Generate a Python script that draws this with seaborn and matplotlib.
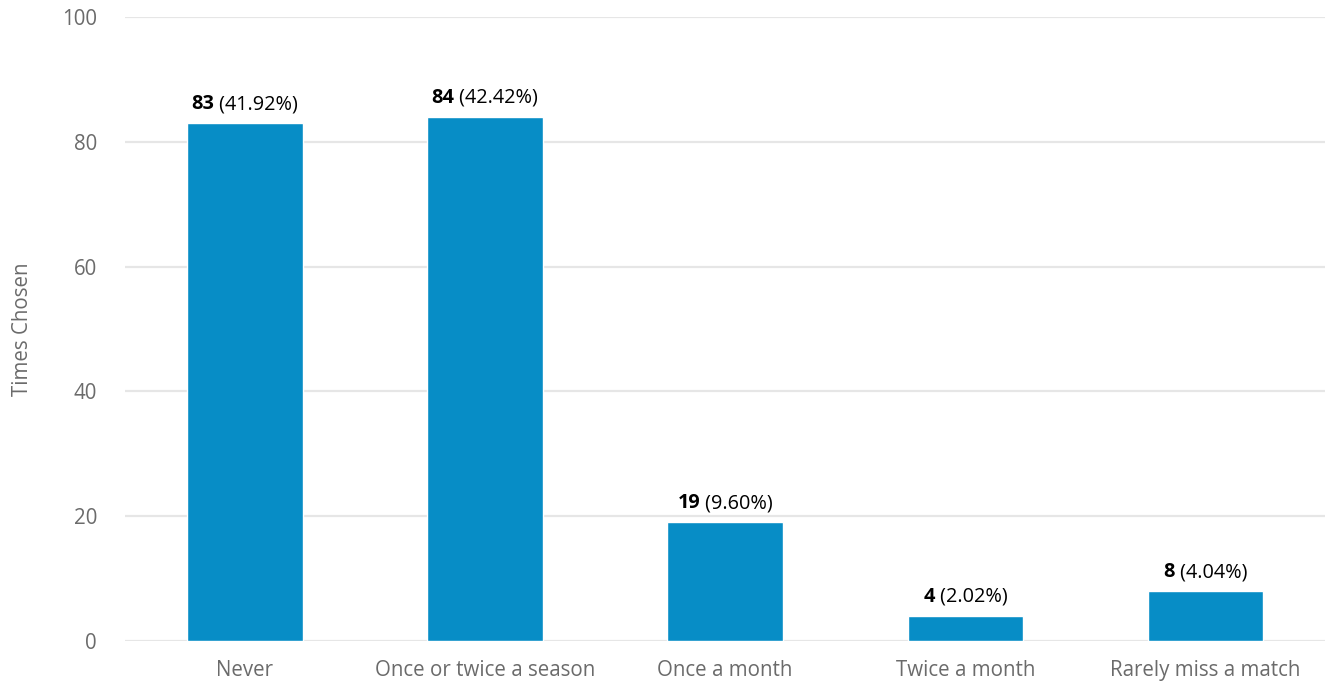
import matplotlib
matplotlib.use("Agg")
import matplotlib.pyplot as plt
import matplotlib.transforms as mtransforms
import seaborn as sns
import pandas as pd

categorias = ["Never", "Once or twice a season", "Once a month", "Twice a month", "Rarely miss a match"]
veces = [83, 84, 19, 4, 8]
porcentajes = ["41.92%", "42.42%", "9.60%", "2.02%", "4.04%"]

df = pd.DataFrame({"categoria": categorias, "veces": veces})

sns.set_style("white")
plt.rcParams['font.family'] = ['Open Sans', 'DejaVu Sans']

fig = plt.figure(figsize=(13.28, 6.84), dpi=100)
ax = fig.add_axes([0.094, 0.063, 0.904, 0.912])

sns.barplot(data=df, x="categoria", y="veces", color="#078dc6", width=0.48,
            saturation=1, ax=ax, zorder=3)

ax.set_ylim(0, 100)
ax.set_yticks([0, 20, 40, 60, 80, 100])
ax.yaxis.grid(True, color="#e6e6e6", linewidth=1.6, zorder=0)
ax.set_axisbelow(True)
for s in ax.spines.values():
    s.set_visible(False)
ax.tick_params(axis="both", length=0, labelsize=14.8, labelcolor="#6b6b6b")
ax.tick_params(axis="y", pad=20)
ax.tick_params(axis="x", pad=14)
ax.set_xlabel("")
ax.set_ylabel("Times Chosen", fontsize=14.8, color="#6b6b6b", labelpad=21)

# etiquetas: numero en negrita + porcentaje
fig.canvas.draw()
renderer = fig.canvas.get_renderer()
for i, (v, p) in enumerate(zip(veces, porcentajes)):
    t1 = ax.text(i, v, str(v), fontsize=14.3, fontweight="bold", color="black", ha="left", va="bottom")
    t2 = ax.text(i, v, " (" + p + ")", fontsize=14.3, color="black", ha="left", va="bottom")
    w1 = t1.get_window_extent(renderer).width
    w2 = t2.get_window_extent(renderer).width
    total = w1 + w2
    t1.set_transform(mtransforms.offset_copy(ax.transData, fig=fig, x=-total / 2 / fig.dpi, y=9 / fig.dpi, units="inches"))
    t2.set_transform(mtransforms.offset_copy(ax.transData, fig=fig, x=(-total / 2 + w1) / fig.dpi, y=9 / fig.dpi, units="inches"))

fig.savefig("out.png", dpi=100)
